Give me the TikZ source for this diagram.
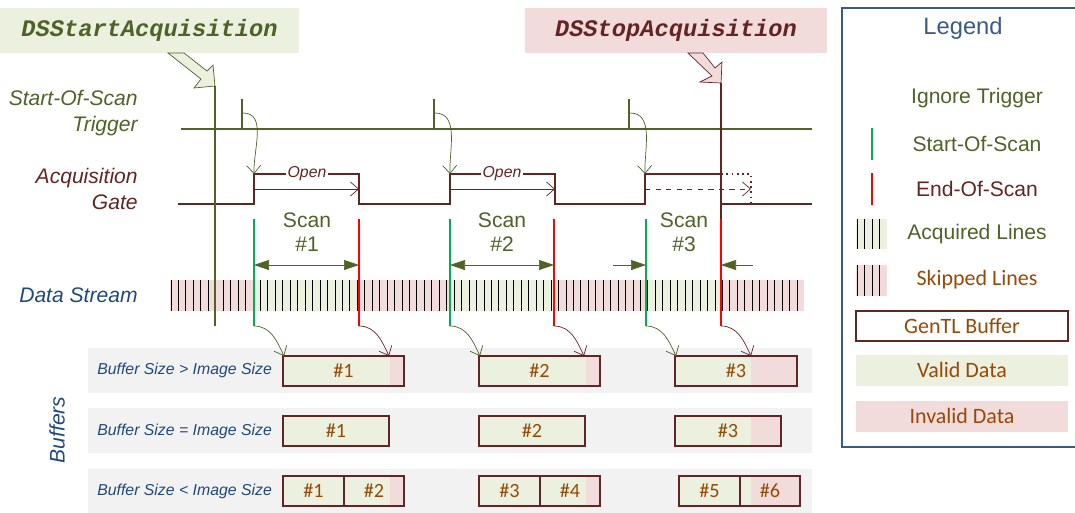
\documentclass[tikz,border=0pt]{standalone}
\usepackage{fontspec}
\setmainfont{Liberation Sans}
\setmonofont{Liberation Mono}
\newfontfamily\calibrifont{Carlito}
\usepackage{tikz}
\usetikzlibrary{arrows.meta, positioning}
\definecolor{trigolive}{HTML}{4F6228}
\definecolor{gatered}{HTML}{632523}
\definecolor{streamblue}{HTML}{1F497D}
\definecolor{legendblue}{HTML}{375A86}
\definecolor{bufbrown}{HTML}{984807}
\definecolor{validfill}{HTML}{EBF1DE}
\definecolor{invalidfill}{HTML}{F2DCDB}
\definecolor{bandgrey}{HTML}{F2F2F2}
\definecolor{sosgreen}{HTML}{00B050}
\definecolor{eosred}{HTML}{FF0000}

\begin{document}
\begin{tikzpicture}[x=0.02cm, y=-0.02cm,
  >={Straight Barb[length=1.6mm,width=2.8mm]},
  every node/.style={inner sep=0pt},
  sig-label/.style={font=\fontsize{12}{14.7}\selectfont\itshape, align=right, anchor=east},
  call-text/.style={font=\fontsize{13.5}{16}\selectfont\ttfamily\bfseries\itshape, minimum height=0.9cm},
  scan-label/.style={font=\fontsize{12}{13.6}\selectfont, align=center, text=trigolive},
  row-label/.style={font=\fontsize{9}{11}\selectfont\itshape, text=streamblue, anchor=west},
  buf-text/.style={font=\calibrifont\fontsize{11.5}{13}\selectfont, text=bufbrown},
  legend-text/.style={font=\fontsize{12}{14}\selectfont},
  legend-cal/.style={font=\calibrifont\fontsize{12.5}{14}\selectfont, text=bufbrown},
  sos-line/.style={sosgreen, line width=1.6pt},
  eos-line/.style={eosred, line width=1.6pt},
  scan-arrow/.style={trigolive, thin, {Triangle[length=3mm,width=2mm]}-{Triangle[length=3mm,width=2mm]}}
]
\useasboundingbox (0,0) rectangle (1075,512);
\node[call-text, minimum width=5.98cm, fill=validfill, text=trigolive] (start-call) at (149.5,30.5) {DSStartAcquisition};
\node[call-text, minimum width=6.04cm, fill=invalidfill, text=gatered] (stop-call) at (676,30.5) {DSStopAcquisition};
\filldraw[fill=validfill, draw=trigolive, thin]
  (168,53) -- (201,79) -- (194,88) -- (215,86) -- (213,65) -- (207,71) -- (184,53) -- cycle;
\filldraw[fill=invalidfill, draw=gatered, thin]
  (688,53) -- (712,76) -- (700,82) -- (721,83) -- (722,62) -- (715,68) -- (703,53) -- cycle;
\node[sig-label, text=trigolive] (trig-label) at (138,113) {Start-Of-Scan\\Trigger};
\node[sig-label, text=gatered] (gate-label) at (138,189) {Acquisition\\Gate};
\node[sig-label, text=streamblue] (stream-label) at (138,295) {Data Stream};
\node[font=\fontsize{12}{14}\selectfont\itshape, text=streamblue, rotate=90] (buffers-label) at (57,430) {Buffers};
% trigger and gate signals
\draw[trigolive, line width=1pt] (181,129) -- (812,129);
\draw[gatered, line width=1pt] (178,204) -- (254,204) -- (254,174) -- (359,174) -- (359,204)
  -- (450,204) -- (450,174) -- (555,174) -- (555,204) -- (645,204) -- (645,174) -- (721,174)
  -- (721,204) -- (812,204);
\draw[gatered, line width=1pt, dotted] (721,174) -- (751,174) -- (751,204);
\foreach \n/\tx/\rise in {1/242/254, 2/434/450, 3/629/645} {
  \draw[trigolive, line width=1pt] (\tx,99) -- (\tx,129);
  \coordinate (pulse-\n) at (\tx+1,113);
  \coordinate (rise-\n) at (\rise,174);
  \draw[->, trigolive, thin] (pulse-\n) to[out=0,in=92] (rise-\n);
}
\foreach \n/\a/\b/\s in {1/254/359/solid, 2/450/555/solid, 3/645/751/dashed} {
  \coordinate (open-s-\n) at (\a,189);
  \coordinate (open-e-\n) at (\b,189);
  \draw[->, gatered, thin, \s] (open-s-\n) -- (open-e-\n);
}
\node[fill=white, inner sep=1pt, font=\fontsize{9}{10}\selectfont\itshape, text=gatered] (open-1) at (307,174) {Open};
\node[fill=white, inner sep=1pt, font=\fontsize{9}{10}\selectfont\itshape, text=gatered] (open-2) at (502,174) {Open};
% data stream
\fill[invalidfill] (170,280) rectangle (804,311);
\foreach \a/\b in {254/359, 450/554, 646/721}
  \fill[validfill] (\a,280) rectangle (\b,311);
\foreach \i in {0,...,84}
  \draw[black, line width=0.5pt] ({171+7.452*\i},280) -- ++(0,31);
\draw[trigolive, line width=1.6pt] (215,86) -- (215,326);
\draw[gatered, line width=1.6pt] (721,83) -- (721,219);
% buffer rows
\foreach \y in {348, 408, 469}
  \fill[bandgrey] (88,\y) rectangle (812,\y+45);
\foreach \r/\y/\rel in {1/370/>, 2/431/=, 3/491/<}
  \node[row-label] (row-\r) at (97,\y) {Buffer Size \rel{} Image Size};
\foreach \r/\a/\b/\p/\l/\t in {1/283/404/390/1/356, 1/479/600/586/2/356, 1/675/797/751/3/356,
    2/283/389/389/1/416, 2/479/585/585/2/416, 2/675/781/751/3/416,
    3/283/344/344/1/476, 3/344/404/390/2/476, 3/479/540/540/3/476, 3/540/600/586/4/476,
    3/679/740/740/5/476, 3/740/800/751/6/476} {
  \fill[validfill] (\a,\t) rectangle (\p,\t+30);
  \fill[invalidfill] (\p,\t) rectangle (\b,\t+30);
  \draw[gatered, line width=0.9pt] (\a,\t) rectangle (\b,\t+30);
  \node[buf-text] (buf-\r-\l) at ({(\a+\b)/2},\t+15) {\#\l};
}
% scans
\foreach \n/\s/\e/\c in {1/254/359/307, 2/450/554/502, 3/646/721/684} {
  \draw[sos-line] (\s,219) -- (\s,326) coordinate (sos-\n);
  \draw[eos-line] (\e,219) -- (\e,326) coordinate (eos-\n);
  \coordinate (sos-mid-\n) at (\s,265);
  \coordinate (eos-mid-\n) at (\e,265);
  \coordinate (buf-start-\n) at (\s+30,356);
  \coordinate (buf-end-\n) at (\e+30,356);
  \node[scan-label] (scan-\n) at (\c,232) {Scan\\\#\n};
  \draw[->, trigolive, thin] (sos-\n) to[out=0,in=115] (buf-start-\n);
  \draw[->, gatered, thin] (eos-\n) to[out=0,in=115] (buf-end-\n);
}
\draw[scan-arrow] (sos-mid-1) -- (eos-mid-1);
\draw[scan-arrow] (sos-mid-2) -- (eos-mid-2);
\draw[trigolive, thin, -{Triangle[length=3mm,width=2mm]}] ([xshift=-0.66cm]sos-mid-3) -- (sos-mid-3);
\draw[trigolive, thin, -{Triangle[length=3mm,width=2mm]}] ([xshift=0.64cm]eos-mid-3) -- (eos-mid-3);
% legend
\draw[legendblue, line width=1.2pt] (1080,8) -- (842,8) -- (842,447) -- (1080,447);
\node[font=\fontsize{13.5}{15}\selectfont, text=legendblue] (legend-title) at (963,28) {Legend};
\node[legend-text, text=trigolive] (leg-ignore) at (977,98) {Ignore Trigger};
\draw[sos-line] (872,128) -- (872,160);
\node[legend-text, text=trigolive] (leg-sos) at (977,144) {Start-Of-Scan};
\draw[eos-line] (872,173) -- (872,205);
\node[legend-text, text=gatered] (leg-eos) at (977,189) {End-Of-Scan};
\fill[validfill] (856,219) rectangle (887,249);
\fill[invalidfill] (856,265) rectangle (887,296);
\foreach \x in {857, 864.5, 872, 879.5} {
  \draw[black, line width=0.5pt] (\x,219) -- (\x,249);
  \draw[black, line width=0.5pt] (\x,265) -- (\x,296);
}
\node[legend-text, text=trigolive] (leg-acq) at (977,234) {Acquired Lines};
\node[legend-cal] (leg-skip) at (977,280) {Skipped Lines};
\draw[gatered, line width=0.9pt, fill=white] (856,311) rectangle (1068,341);
\node[legend-cal] (leg-buf) at (962,326) {GenTL Buffer};
\fill[validfill] (856,355) rectangle (1068,386);
\node[legend-cal] (leg-valid) at (962,370) {Valid Data};
\fill[invalidfill] (856,401) rectangle (1068,432);
\node[legend-cal] (leg-invalid) at (962,416) {Invalid Data};
\end{tikzpicture}
\end{document}
